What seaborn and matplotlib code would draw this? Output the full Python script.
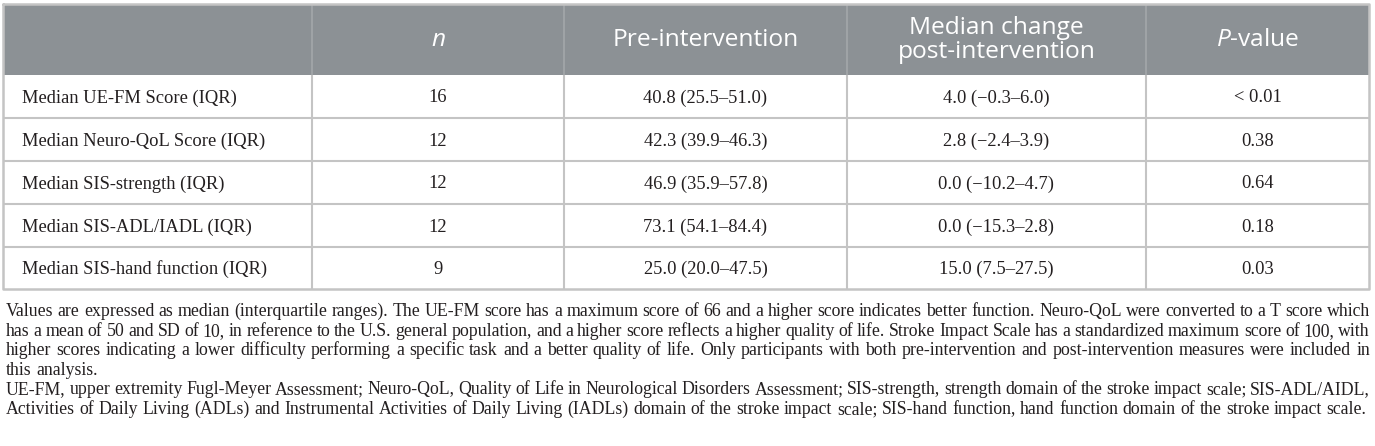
import matplotlib
matplotlib.use("Agg")
import matplotlib.pyplot as plt
import seaborn as sns

# table content
measures = [
    "Median UE-FM Score (IQR)",
    "Median Neuro-QoL Score (IQR)",
    "Median SIS-strength (IQR)",
    "Median SIS-ADL/IADL (IQR)",
    "Median SIS-hand function (IQR)",
]
n_values = [16, 12, 12, 12, 9]
pre_median = [40.8, 42.3, 46.9, 73.1, 25.0]
pre_q1 = [25.5, 39.9, 35.9, 54.1, 20.0]
pre_q3 = [51.0, 46.3, 57.8, 84.4, 47.5]
chg_median = [4.0, 2.8, 0.0, 0.0, 15.0]
chg_q1 = [-0.3, -2.4, -10.2, -15.3, 7.5]
chg_q3 = [6.0, 3.9, 4.7, 2.8, 27.5]
p_values = ["< 0.01", "0.38", "0.64", "0.18", "0.03"]

headers = ["", "$n$", "Pre-intervention", "Median change\npost-intervention", "$P$-value"]

footnote_1 = [
    "Values are expressed as median (interquartile ranges). The UE-FM score has a maximum score of 66 and a higher score indicates better function. Neuro-QoL were converted to a T score which",
    "has a mean of 50 and SD of 10, in reference to the U.S. general population, and a higher score reflects a higher quality of life. Stroke Impact Scale has a standardized maximum score of 100, with",
    "higher scores indicating a lower difficulty performing a specific task and a better quality of life. Only participants with both pre-intervention and post-intervention measures were included in",
    "this analysis.",
]
footnote_2 = [
    "UE-FM, upper extremity Fugl-Meyer Assessment; Neuro-QoL, Quality of Life in Neurological Disorders Assessment; SIS-strength, strength domain of the stroke impact scale; SIS-ADL/AIDL,",
    "Activities of Daily Living (ADLs) and Instrumental Activities of Daily Living (IADLs) domain of the stroke impact scale; SIS-hand function, hand function domain of the stroke impact scale.",
]

sns.set_theme(style="white")
plt.rcParams["font.family"] = ["Liberation Serif", "DejaVu Serif"]
plt.rcParams["mathtext.fontset"] = "custom"
plt.rcParams["mathtext.rm"] = "Open Sans"
plt.rcParams["mathtext.it"] = "Open Sans:italic"


def fmt(v):
    s = f"{abs(v):.1f}"
    return "\u2212" + s if v < 0 else s


def rng(med, lo, hi):
    return f"{fmt(med)} ({fmt(lo)}\u2013{fmt(hi)})"


fig = plt.figure(figsize=(13.75, 4.46), dpi=100)
ax = fig.add_axes([0, 0, 1, 1])
ax.set_xlim(0, 1375)
ax.set_ylim(446, 0)
ax.axis("off")
renderer = fig.canvas.get_renderer()


def text_width(s, size, **kw):
    t = ax.text(0, 0, s, fontsize=size, **kw)
    w = t.get_window_extent(renderer).width
    t.remove()
    return w


def fit_size(s, target, base=13.0, **kw):
    return base * target / text_width(s, base, **kw)


col_edges = [3, 312, 564, 847, 1146, 1369]
row_edges = [4, 75, 118, 161, 204, 247, 289]
header_bg = "#8c9195"
grid_col = "#c4c4c4"
text_col = "#231f20"

head_fs = fit_size("Pre-intervention", 185, family="Open Sans")
cell_fs = fit_size("40.8 (25.5\u201351.0)", 122)

# header band
ax.fill_between([col_edges[0], col_edges[-1]], row_edges[0], row_edges[1],
                color=header_bg, lw=0, zorder=1)
ax.vlines(col_edges[1:-1], row_edges[0], row_edges[1], color="#a3a7aa", lw=1.2, zorder=2)
ax.vlines(col_edges[1:-1], row_edges[1], row_edges[-1], color=grid_col, lw=1.5, zorder=2)
ax.hlines(row_edges[2:-1], col_edges[0], col_edges[-1], color=grid_col, lw=1.5, zorder=2)
ax.plot([col_edges[0], col_edges[-1], col_edges[-1], col_edges[0], col_edges[0]],
        [row_edges[0], row_edges[0], row_edges[-1], row_edges[-1], row_edges[0]],
        color=grid_col, lw=1.8, zorder=3)

centers = [(a + b) / 2 for a, b in zip(col_edges[:-1], col_edges[1:])]
hy = (row_edges[0] + row_edges[1]) / 2
for j, h in enumerate(headers[1:], start=1):
    ax.text(centers[j], hy, h, ha="center", va="center", color="white",
            fontsize=head_fs, family="Open Sans", linespacing=1.0, zorder=4)

for i, name in enumerate(measures):
    y = (row_edges[i + 1] + row_edges[i + 2]) / 2 + 1.5
    cells = [str(n_values[i]),
             rng(pre_median[i], pre_q1[i], pre_q3[i]),
             rng(chg_median[i], chg_q1[i], chg_q3[i]),
             p_values[i]]
    ax.text(22, y, name, ha="left", va="center", fontsize=cell_fs, color=text_col, zorder=4)
    for j, c in enumerate(cells, start=1):
        ax.text(centers[j], y, c, ha="center", va="center", fontsize=cell_fs,
                color=text_col, zorder=4)

# footnotes, justified like the source
left, right = 6, 1370
foot_fs = fit_size(footnote_2[1], right - left - 8)


def put_line(line, y, justify):
    words = line.split(" ")
    widths = [text_width(w, foot_fs) for w in words]
    space = text_width("a a", foot_fs) - text_width("aa", foot_fs)
    gap = (right - left - sum(widths)) / (len(words) - 1) if justify else space
    x = left
    for w, wd in zip(words, widths):
        ax.text(x, y, w, ha="left", va="baseline", fontsize=foot_fs, color=text_col)
        x += wd + gap


y = 316
for k, line in enumerate(footnote_1):
    put_line(line, y, k < len(footnote_1) - 1)
    y += 19.6
for k, line in enumerate(footnote_2):
    put_line(line, y, k < len(footnote_2) - 1)
    y += 19.6

fig.savefig("out.png", dpi=100)
